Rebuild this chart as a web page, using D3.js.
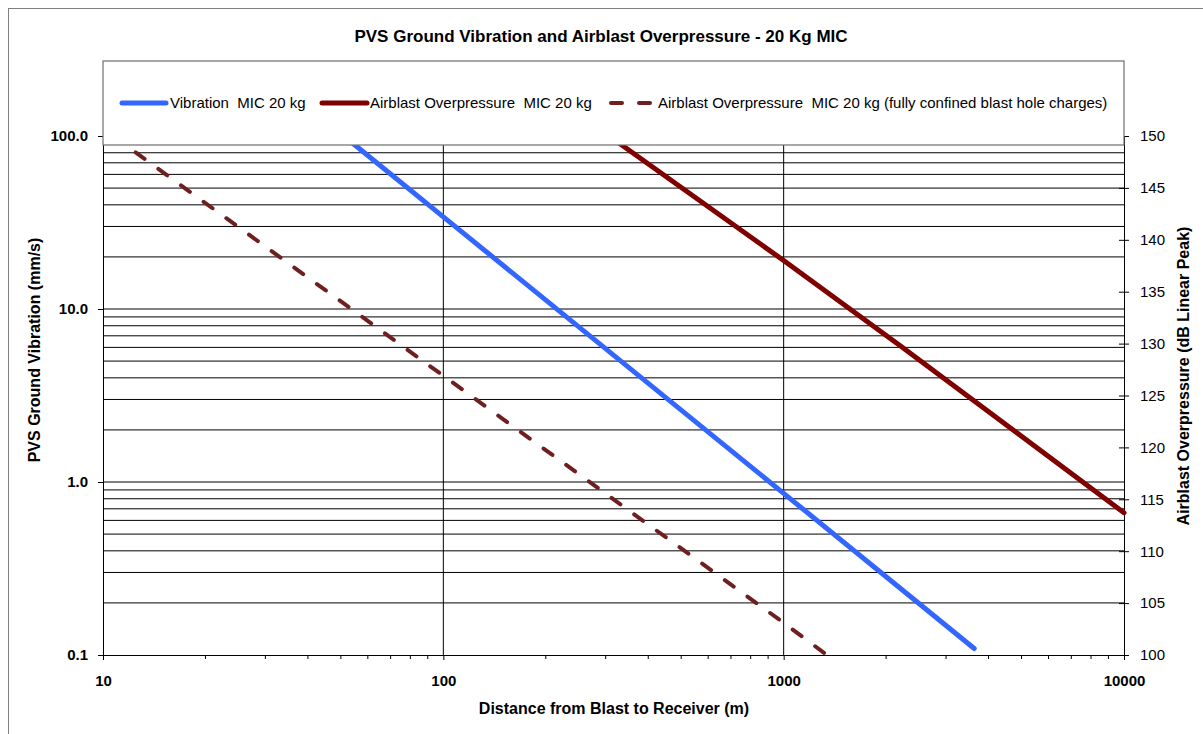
<!DOCTYPE html>
<html>
<head>
<meta charset="utf-8">
<script src="https://cdn.jsdelivr.net/npm/d3@7"></script>
<style>
  html, body { margin: 0; padding: 0; background: #fff; }
  svg { display: block; font-family: "Liberation Sans", Arial, sans-serif; }
</style>
</head>
<body>
<svg id="chart" width="1203" height="734"></svg>
<script>
// Vibration (PVS, mm/s) versus distance, left axis
const vibDistance = [51, 100, 1000, 3630];
const vibPPV      = [100, 34.1, 0.86, 0.109];

// Airblast overpressure (dB linear peak) versus distance, right axis
const airDistance = [307, 1000, 2200, 10000];
const airDb       = [150, 138.0, 129.8, 113.7];

// Airblast overpressure for fully confined blast hole charges, right axis
const confinedDistance = [10.7, 100, 1000, 1340];
const confinedDb       = [150, 126.9, 103.1, 100];

// Axis ticks and labels
const xMajorTicks = [10, 100, 1000, 10000];
const leftTicks   = [0.1, 1, 10, 100];
const rightTicks  = [100, 105, 110, 115, 120, 125, 130, 135, 140, 145, 150];

const seriesNames = [
  "Vibration  MIC 20 kg",
  "Airblast Overpressure  MIC 20 kg",
  "Airblast Overpressure  MIC 20 kg (fully confined blast hole charges)"
];
const chartTitle  = "PVS Ground Vibration and Airblast Overpressure - 20 Kg MIC";
const xTitle      = "Distance from Blast to Receiver (m)";
const yLeftTitle  = "PVS Ground Vibration (mm/s)";
const yRightTitle = "Airblast Overpressure (dB Linear Peak)";

const svg = d3.select("#chart");

const plot = { left: 103, right: 1124, top: 136, bottom: 655 };

const x = d3.scaleLog().domain([10, 10000]).range([plot.left, plot.right]);
const yL = d3.scaleLog().domain([0.1, 100]).range([plot.bottom, plot.top]);
const yR = d3.scaleLinear().domain([100, 150]).range([plot.bottom, plot.top]);

// outer chart frame
svg.append("rect")
  .attr("x", 8.5).attr("y", 8.5)
  .attr("width", 1230).attr("height", 760)
  .attr("fill", "#fff").attr("stroke", "#808080").attr("stroke-width", 1);

// minor and major decades on both log axes
function decadeValues(lo, hi) {
  const out = [];
  for (let p = lo; p < hi; p *= 10) {
    for (let m = 1; m <= 9; m++) out.push(+(p * m).toPrecision(3));
  }
  out.push(hi);
  return out;
}
const yGridValues = decadeValues(0.1, 100).filter(v => v > 0.1);
const xMinorValues = decadeValues(10, 10000).filter(v => !xMajorTicks.includes(v));

// horizontal grid lines
svg.append("g").selectAll("line")
  .data(yGridValues).join("line")
  .attr("x1", plot.left).attr("x2", plot.right)
  .attr("y1", d => yL(d)).attr("y2", d => yL(d))
  .attr("stroke", "#000").attr("stroke-width", 1);

// vertical grid lines at the inner decades
svg.append("g").selectAll("line")
  .data([100, 1000]).join("line")
  .attr("x1", d => x(d)).attr("x2", d => x(d))
  .attr("y1", plot.top).attr("y2", plot.bottom)
  .attr("stroke", "#000").attr("stroke-width", 1);

// bottom axis: major ticks with labels
const gx = svg.append("g")
  .attr("transform", `translate(0,${plot.bottom})`)
  .call(d3.axisBottom(x).tickValues(xMajorTicks).tickFormat(d3.format("d"))
    .tickSizeInner(5).tickSizeOuter(0).tickPadding(15));
gx.select(".domain").attr("stroke", "#000");
gx.selectAll("text").attr("font-size", 15).attr("font-weight", "bold")
  .attr("fill", "#000").attr("font-family", "Liberation Sans, Arial, sans-serif");

// bottom axis: minor ticks
svg.append("g").selectAll("line")
  .data(xMinorValues).join("line")
  .attr("x1", d => x(d)).attr("x2", d => x(d))
  .attr("y1", plot.bottom).attr("y2", plot.bottom + 4)
  .attr("stroke", "#000");

// left axis
const gl = svg.append("g")
  .attr("transform", `translate(${plot.left},0)`)
  .call(d3.axisLeft(yL).tickValues(leftTicks).tickFormat(d3.format(".1f"))
    .tickSizeInner(5).tickSizeOuter(0).tickPadding(10));
gl.select(".domain").attr("stroke", "#000");
gl.selectAll("text").attr("font-size", 15).attr("font-weight", "bold")
  .attr("fill", "#000").attr("font-family", "Liberation Sans, Arial, sans-serif");

// right axis with crossing ticks
const gr = svg.append("g")
  .attr("transform", `translate(${plot.right},0)`)
  .call(d3.axisRight(yR).tickValues(rightTicks).tickFormat(d3.format("d"))
    .tickSizeInner(5).tickSizeOuter(0).tickPadding(11));
gr.select(".domain").attr("stroke", "#000");
gr.selectAll(".tick line").attr("x1", -5).attr("x2", 5);
gr.selectAll("text").attr("font-size", 15)
  .attr("fill", "#000").attr("font-family", "Liberation Sans, Arial, sans-serif");

// series lines
const lineL = d3.line().x(d => x(d[0])).y(d => yL(d[1]));
const lineR = d3.line().x(d => x(d[0])).y(d => yR(d[1]));

const series = [
  { pts: d3.zip(vibDistance, vibPPV), gen: lineL, color: "#3366ff", width: 5, dash: null },
  { pts: d3.zip(airDistance, airDb), gen: lineR, color: "#800000", width: 5, dash: null },
  { pts: d3.zip(confinedDistance, confinedDb), gen: lineR, color: "#6e1f1f", width: 4, dash: "11,17" }
];

svg.append("g").selectAll("path")
  .data(series).join("path")
  .attr("d", s => s.gen(s.pts))
  .attr("fill", "none")
  .attr("stroke", s => s.color)
  .attr("stroke-width", s => s.width)
  .attr("stroke-linecap", "round")
  .attr("stroke-linejoin", "round")
  .attr("stroke-dasharray", s => s.dash);

// legend box across the top of the plot area
const legend = svg.append("g");
legend.append("rect")
  .attr("x", plot.left).attr("y", 61)
  .attr("width", plot.right - plot.left).attr("height", 84)
  .attr("fill", "#fff").attr("stroke", "#6e6e6e").attr("stroke-width", 1.2);

const legendItems = [
  { x0: 122, x1: 166, tx: 170 },
  { x0: 322, x1: 367, tx: 370 },
  { x0: 611, x1: 651, tx: 658 }
];
const ly = 103;
legendItems.forEach((it, i) => {
  const s = series[i];
  legend.append("line")
    .attr("x1", it.x0).attr("x2", it.x1).attr("y1", ly).attr("y2", ly)
    .attr("stroke", s.color).attr("stroke-width", s.width)
    .attr("stroke-linecap", "round")
    .attr("stroke-dasharray", s.dash);
  legend.append("text")
    .attr("x", it.tx).attr("y", ly + 5)
    .attr("font-size", 15).attr("fill", "#000")
    .attr("xml:space", "preserve")
    .style("white-space", "pre")
    .text(seriesNames[i]);
});

// titles
svg.append("text")
  .attr("x", 601).attr("y", 42)
  .attr("text-anchor", "middle").attr("font-size", 17).attr("font-weight", "bold")
  .text(chartTitle);

svg.append("text")
  .attr("x", 614).attr("y", 714)
  .attr("text-anchor", "middle").attr("font-size", 16).attr("font-weight", "bold")
  .text(xTitle);

svg.append("text")
  .attr("transform", "translate(40,350) rotate(-90)")
  .attr("text-anchor", "middle").attr("font-size", 16).attr("font-weight", "bold")
  .text(yLeftTitle);

svg.append("text")
  .attr("transform", "translate(1189,376) rotate(-90)")
  .attr("text-anchor", "middle").attr("font-size", 16).attr("font-weight", "bold")
  .text(yRightTitle);
</script>
</body>
</html>
